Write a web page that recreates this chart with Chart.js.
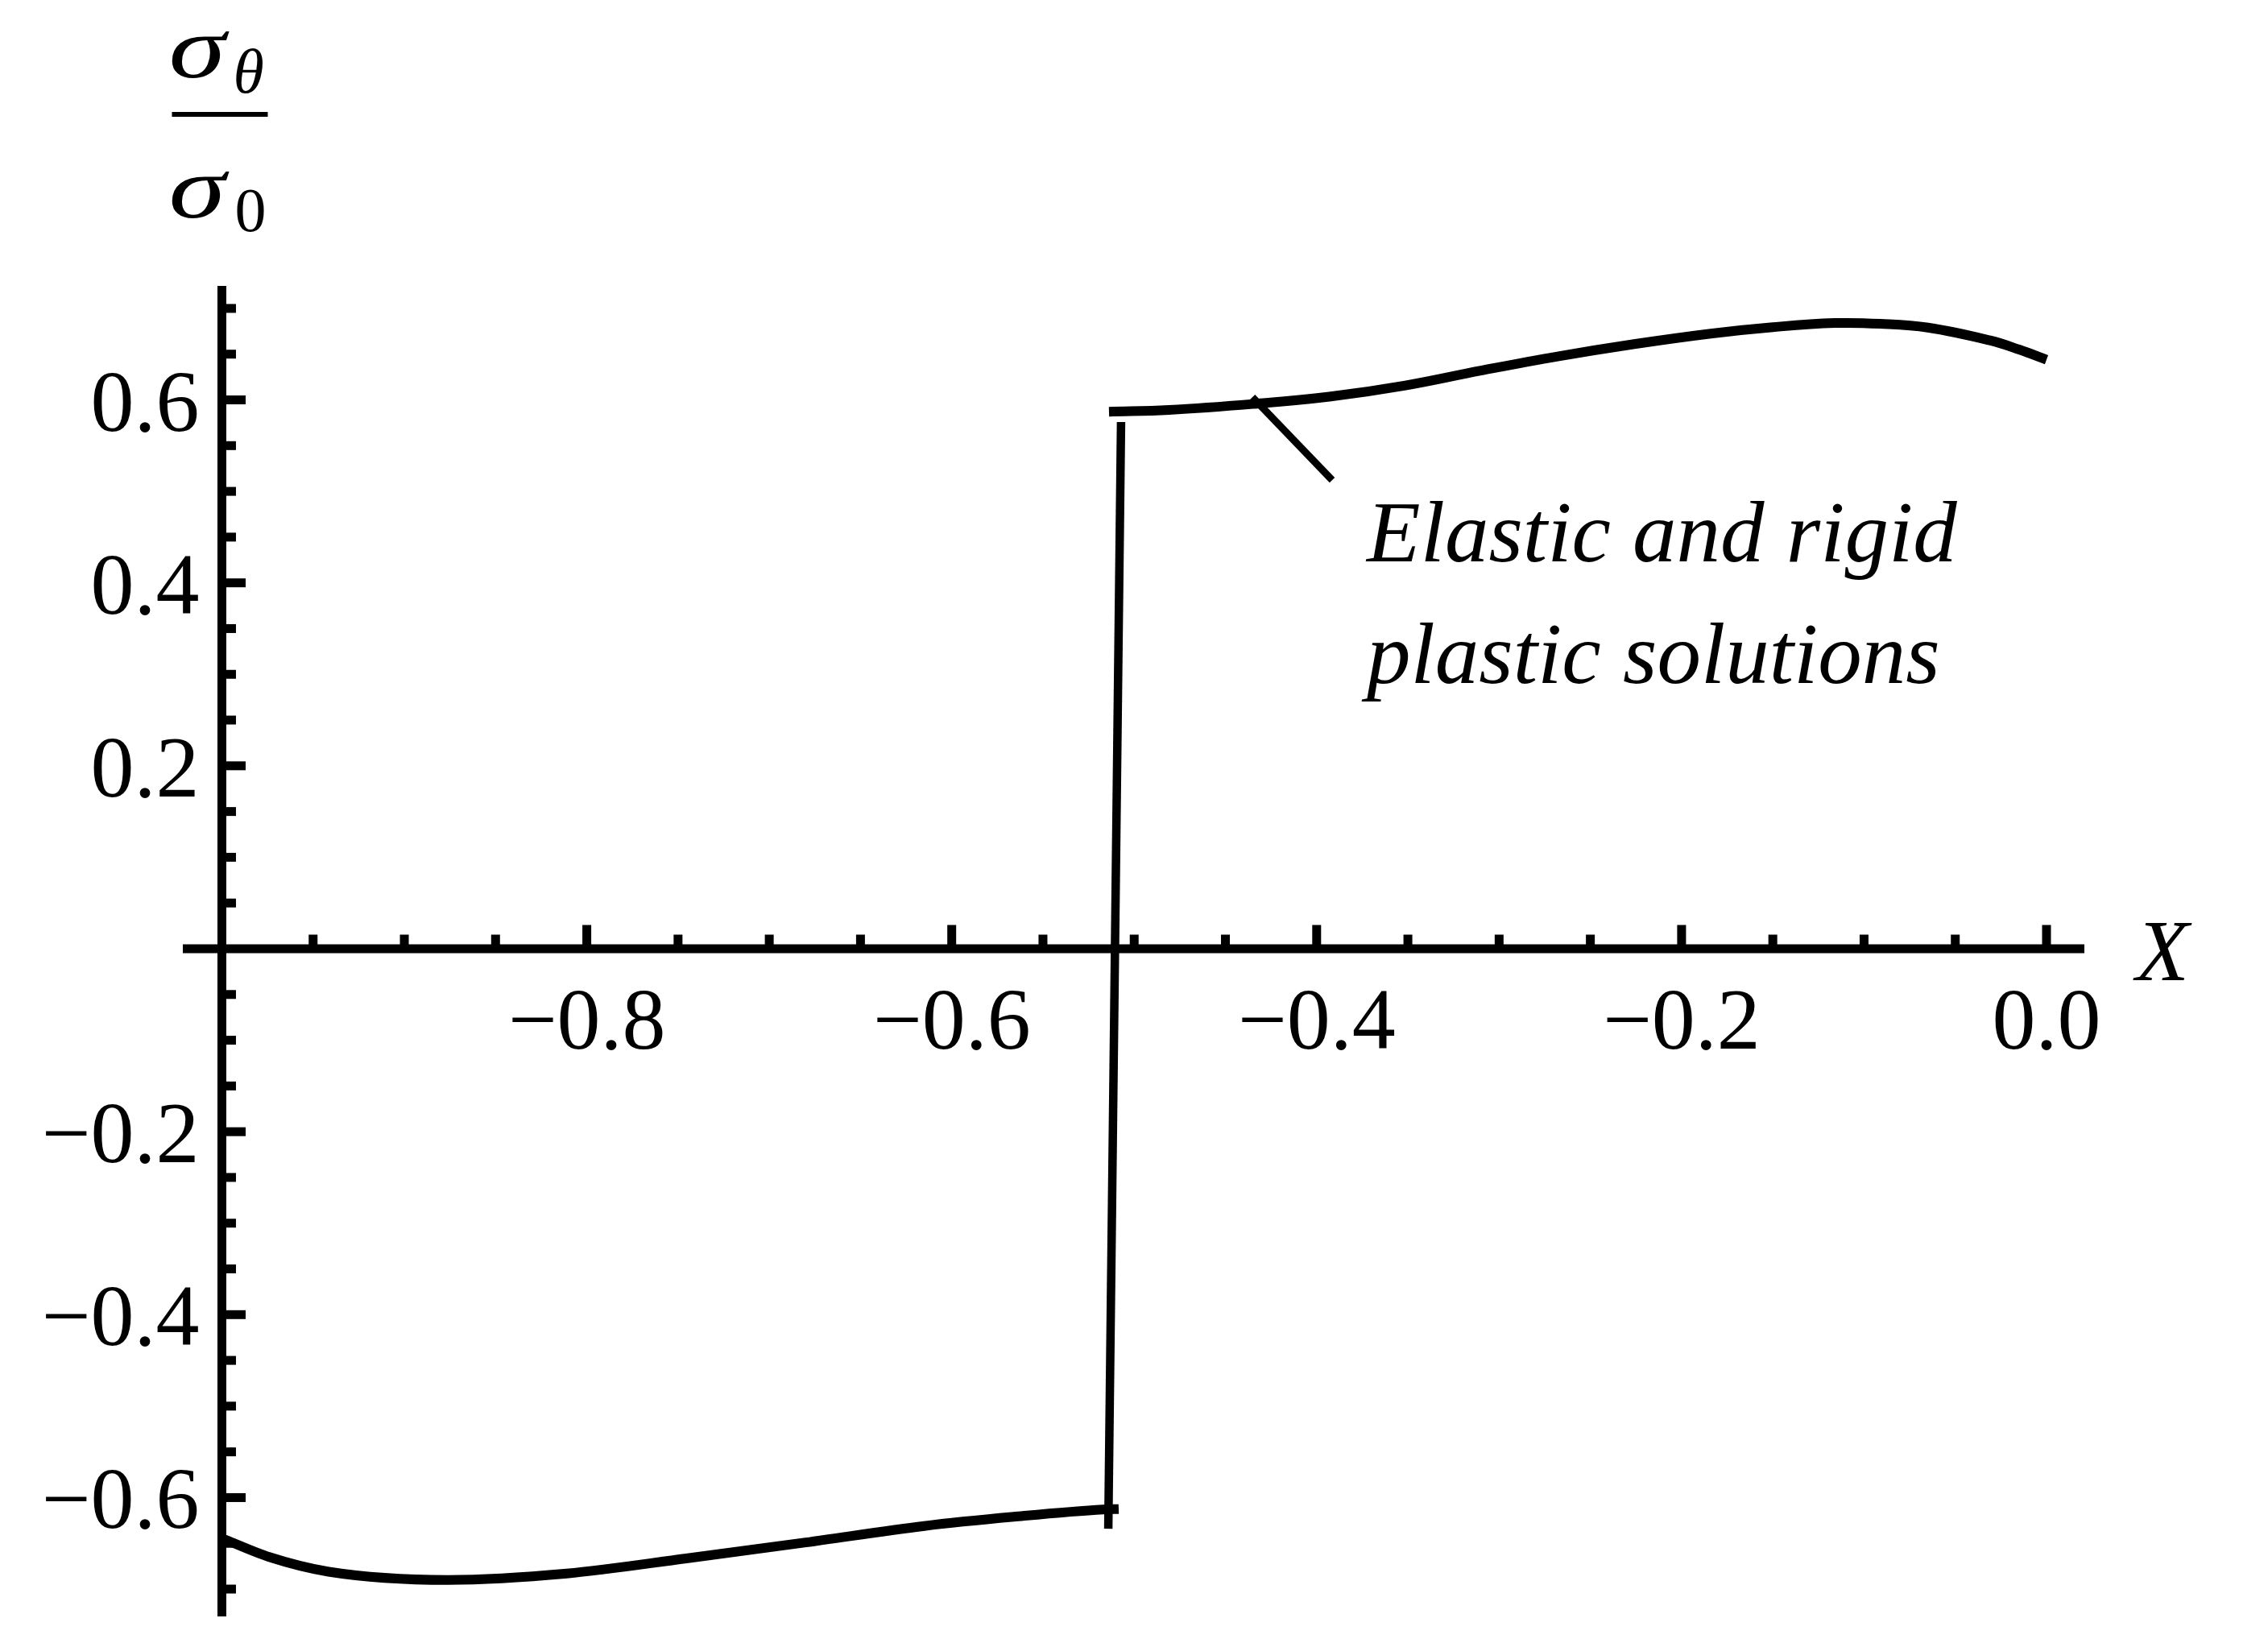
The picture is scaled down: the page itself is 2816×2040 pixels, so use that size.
<!DOCTYPE html>
<html>
<head>
<meta charset="utf-8">
<script src="https://cdn.jsdelivr.net/npm/chart.js@4.4.0/dist/chart.umd.min.js"></script>
<style>
  html, body { margin: 0; padding: 0; background: #fff; }
  canvas { display: block; }
</style>
</head>
<body>
<canvas id="stressChart" width="2816" height="2040"></canvas>
<script>
// Upper branch (right of the jump)
const upperX = [-0.5138, -0.481, -0.435, -0.393, -0.352, -0.310, -0.268, -0.226, -0.184, -0.150, -0.116, -0.091, -0.065, -0.031, -0.015, 0.0];
const upperY = [0.587, 0.589, 0.5955, 0.6035, 0.6155, 0.632, 0.6475, 0.661, 0.6725, 0.6795, 0.684, 0.6832, 0.679, 0.665, 0.655, 0.644];

// Lower branch (left of the jump)
const lowerX = [-1.0, -0.974, -0.9415, -0.876, -0.811, -0.7455, -0.680, -0.615, -0.566, -0.517, -0.5085];
const lowerY = [-0.6445, -0.665, -0.681, -0.690, -0.683, -0.6665, -0.649, -0.631, -0.621, -0.613, -0.6125];

// Jump between the branches
const jumpX = [-0.5142, -0.5072];
const jumpY = [-0.634, 0.5758];

// Pointer from the curve to the note
const pointerX = [-0.4352, -0.3915];
const pointerY = [0.603, 0.5124];

// Axis ticks and labels
const xMajorTicks = [-0.8, -0.6, -0.4, -0.2, 0.0];
const xTickLabels = ['\u22120.8', '\u22120.6', '\u22120.4', '\u22120.2', '0.0'];
const xMinorTicks = [-0.95, -0.9, -0.85, -0.75, -0.7, -0.65, -0.55, -0.5, -0.45, -0.35, -0.3, -0.25, -0.15, -0.1, -0.05];
const yMajorTicks = [-0.6, -0.4, -0.2, 0.2, 0.4, 0.6];
const yTickLabels = ['\u22120.6', '\u22120.4', '\u22120.2', '0.2', '0.4', '0.6'];
const yMinorTicks = [-0.7, -0.65, -0.55, -0.5, -0.45, -0.35, -0.3, -0.25, -0.15, -0.1, -0.05,
                     0.05, 0.1, 0.15, 0.25, 0.3, 0.35, 0.45, 0.5, 0.55, 0.65, 0.7];

const noteLines = ['Elastic and rigid', 'plastic solutions'];

const SERIF = "'Liberation Serif', 'Times New Roman', serif";

function toPoints(xs, ys) {
  return xs.map((x, i) => ({ x: x, y: ys[i] }));
}

// wide sigma, like the Times glyph in the original
function drawSigma(ctx, x, y) {
  ctx.save();
  ctx.translate(x, y);
  ctx.scale(1.3, 1);
  ctx.font = 'italic 110px ' + SERIF;
  ctx.fillText('\u03C3', 0, 0);
  ctx.restore();
}

// Draws the crossing axes, ticks, labels, the fraction title and the note
const axesPlugin = {
  id: 'crossAxes',
  afterDatasetsDraw(chart) {
    const ctx = chart.ctx;
    const xs = chart.scales.x;
    const ys = chart.scales.y;
    const area = chart.chartArea;
    const axisY = ys.getPixelForValue(0);
    const axisX = xs.getPixelForValue(-1);
    const lw = 11;
    const half = lw / 2;

    ctx.save();
    ctx.fillStyle = '#000';
    ctx.strokeStyle = '#000';

    // axis lines
    ctx.fillRect(area.left, axisY - half, area.right - area.left, lw);
    ctx.fillRect(axisX - half, area.top, lw, area.bottom - area.top);

    // x ticks point up
    xMajorTicks.forEach(v => {
      const px = xs.getPixelForValue(v);
      ctx.fillRect(px - half, axisY - half - 24, lw, 24 + half);
    });
    xMinorTicks.forEach(v => {
      const px = xs.getPixelForValue(v);
      ctx.fillRect(px - half, axisY - half - 12, lw, 12 + half);
    });

    // y ticks point right
    yMajorTicks.forEach(v => {
      const py = ys.getPixelForValue(v);
      ctx.fillRect(axisX, py - half, half + 24, lw);
    });
    yMinorTicks.forEach(v => {
      const py = ys.getPixelForValue(v);
      ctx.fillRect(axisX, py - half, half + 12, lw);
    });

    // tick labels
    ctx.font = '108px ' + SERIF;
    ctx.textBaseline = 'alphabetic';
    ctx.textAlign = 'center';
    xMajorTicks.forEach((v, i) => {
      ctx.fillText(xTickLabels[i], xs.getPixelForValue(v), axisY + 124);
    });
    ctx.textAlign = 'right';
    yMajorTicks.forEach((v, i) => {
      ctx.fillText(yTickLabels[i], axisX - 28, ys.getPixelForValue(v) + 38);
    });

    // axis title X
    ctx.textAlign = 'left';
    ctx.font = 'italic 108px ' + SERIF;
    ctx.fillText('X', area.right + 64, axisY + 39);

    // y title: sigma_theta over sigma_0
    const tx = axisX - 66;
    drawSigma(ctx, tx, area.top - 259);
    drawSigma(ctx, tx, area.top - 85);
    ctx.font = 'italic 78px ' + SERIF;
    ctx.fillText('\u03B8', tx + 80, area.top - 240);
    ctx.font = '78px ' + SERIF;
    ctx.fillText('0', tx + 82, area.top - 68);
    ctx.fillRect(axisX - 62, area.top - 216, 119, 6);

    // note next to the pointer
    ctx.font = 'italic 109px ' + SERIF;
    const noteX = xs.getPixelForValue(-0.3725);
    ctx.fillText(noteLines[0], noteX, ys.getPixelForValue(0.4235));
    ctx.fillText(noteLines[1], noteX, ys.getPixelForValue(0.2905));

    ctx.restore();
  }
};

const lineStyle = {
  borderColor: '#000',
  pointRadius: 0,
  pointHoverRadius: 0,
  fill: false
};

new Chart(document.getElementById('stressChart').getContext('2d'), {
  type: 'line',
  data: {
    datasets: [
      Object.assign({ label: 'upper', data: toPoints(upperX, upperY), borderWidth: 12, tension: 0.4 }, lineStyle),
      Object.assign({ label: 'lower', data: toPoints(lowerX, lowerY), borderWidth: 12, cubicInterpolationMode: 'monotone' }, lineStyle),
      Object.assign({ label: 'jump', data: toPoints(jumpX, jumpY), borderWidth: 10.5, tension: 0 }, lineStyle),
      Object.assign({ label: 'pointer', data: toPoints(pointerX, pointerY), borderWidth: 9, tension: 0 }, lineStyle)
    ]
  },
  options: {
    responsive: false,
    animation: false,
    events: [],
    layout: { padding: { left: 227, right: 228, top: 355, bottom: 33 } },
    scales: {
      x: { type: 'linear', min: -1.0214, max: 0.02075, display: false },
      y: { type: 'linear', min: -0.7299, max: 0.7246, display: false }
    },
    plugins: {
      legend: { display: false },
      tooltip: { enabled: false }
    }
  },
  plugins: [axesPlugin]
});
</script>
</body>
</html>
